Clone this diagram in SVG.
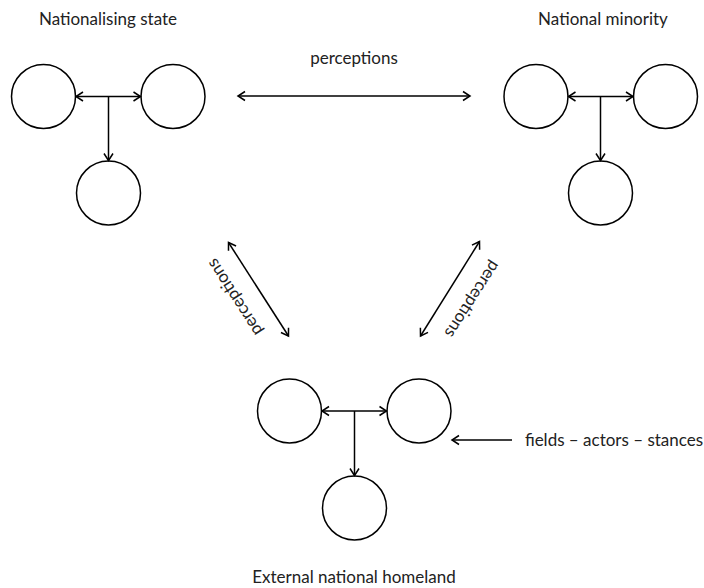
<svg xmlns="http://www.w3.org/2000/svg" width="704" height="588" viewBox="0 0 704 588">
<defs>
<style>
.n{fill:#fff;stroke:#000;stroke-width:1.5}
.c{fill:none;stroke:#000;stroke-width:1.5}
.t{font-family:"Lato","Open Sans",sans-serif;font-size:17px;font-weight:400;fill:#222;text-anchor:middle}
</style>
<marker id="a" markerWidth="12" markerHeight="12" refX="9" refY="6" orient="auto-start-reverse" markerUnits="userSpaceOnUse">
<path d="M2,1.5 L9,6 L2,10.5" fill="none" stroke="#000" stroke-width="1.5"/>
</marker>
</defs>
<rect width="704" height="588" fill="#fff"/>
<g id="state">
<circle class="n" cx="43.5" cy="96.5" r="32"/>
<circle class="n" cx="173" cy="96.5" r="32"/>
<circle class="n" cx="108.5" cy="193" r="32"/>
<text class="t" x="108" y="25">Nationalising state</text>
</g>
<g id="minority">
<circle class="n" cx="536" cy="96.5" r="32"/>
<circle class="n" cx="665.5" cy="96.5" r="32"/>
<circle class="n" cx="600.5" cy="193" r="32"/>
<text class="t" x="603" y="25">National minority</text>
</g>
<g id="homeland">
<circle class="n" cx="289.5" cy="411" r="32"/>
<circle class="n" cx="419" cy="411" r="32"/>
<circle class="n" cx="354.5" cy="508" r="32"/>
<text class="t" x="354" y="583">External national homeland</text>
</g>
<g id="legend">
<text class="t" x="614" y="446">fields – actors – stances</text>
</g>
<g id="connectors">
<line class="c" x1="76" y1="96.5" x2="140.5" y2="96.5" marker-start="url(#a)" marker-end="url(#a)"/>
<line class="c" x1="108.5" y1="96.5" x2="108.5" y2="160.5" marker-end="url(#a)"/>
<line class="c" x1="568.5" y1="96.5" x2="633" y2="96.5" marker-start="url(#a)" marker-end="url(#a)"/>
<line class="c" x1="600.5" y1="96.5" x2="600.5" y2="160.5" marker-end="url(#a)"/>
<line class="c" x1="322" y1="411" x2="386.5" y2="411" marker-start="url(#a)" marker-end="url(#a)"/>
<line class="c" x1="354.5" y1="411" x2="354.5" y2="475.5" marker-end="url(#a)"/>
<line class="c" x1="238" y1="96" x2="470" y2="96" marker-start="url(#a)" marker-end="url(#a)"/>
<line class="c" x1="228.5" y1="242.5" x2="288.5" y2="336" marker-start="url(#a)" marker-end="url(#a)"/>
<line class="c" x1="479.5" y1="241.5" x2="420.5" y2="336" marker-start="url(#a)" marker-end="url(#a)"/>
<line class="c" x1="512" y1="440" x2="452" y2="440" marker-end="url(#a)"/>
<text class="t" x="354" y="64">perceptions</text>
<text class="t" transform="translate(235,297) rotate(-122.7)" y="5">perceptions</text>
<text class="t" transform="translate(472,299) rotate(122.7)" y="5">perceptions</text>
</g>
</svg>
